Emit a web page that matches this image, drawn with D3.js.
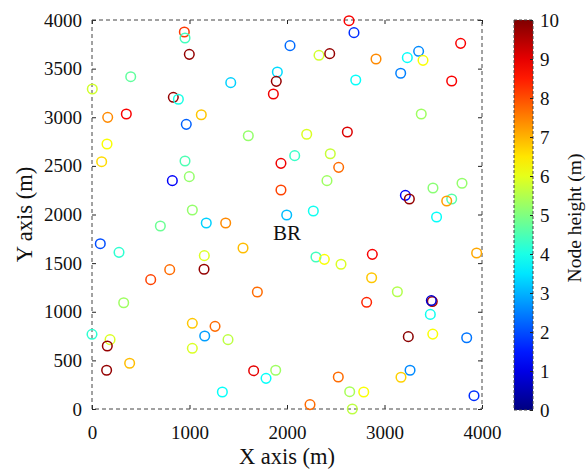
<!DOCTYPE html>
<html><head><meta charset="utf-8">
<script src="https://cdn.jsdelivr.net/npm/d3@7"></script>
<style>body{margin:0;background:#fff}svg{display:block}text{font-family:"Liberation Serif","Times New Roman",serif;fill:#111}</style>
</head><body><svg id="c" width="586" height="474"></svg>
<script>
const xVals=[947,954,998,397,3,1423,1901,1890,1860,834,886,161,352,1121,967,1603,154,99,954,998,824,1938,1938,1029,
2636,2687,2031,2328,2438,2913,3234,3350,3395,3781,3166,2705,3689,3377,2202,2619,2079,2444,2530,2410,3214,3255,3497,3795,3689,3638,2270,1997,
1172,1371,701,85,277,1549,1152,797,602,1149,1696,325,1029,1262,1156,1395,1029,0,185,157,150,386,1658,1785,1884,1337,
3534,3945,2297,2383,2554,2875,2868,3132,2817,3490,3480,3470,3244,3495,3843,3262,3169,2526,2643,2787,2236,2670,3918];
const yVals=[3877,3815,3647,3417,3290,3356,3465,3369,3239,3205,3185,2999,3033,3026,2927,2810,2725,2543,2550,2389,2348,2526,2252,2046,
3993,3870,3736,3637,3654,3599,3613,3678,3585,3760,3452,3383,3373,3033,2825,2848,2605,2625,2485,2348,2197,2159,2272,2321,2159,2139,2036,1995,
1913,1913,1882,1700,1611,1656,1577,1433,1330,1437,1203,1093,881,850,751,713,624,768,713,648,398,470,394,315,398,175,
1974,1604,1563,1539,1488,1590,1350,1206,1097,1105,1115,973,744,770,733,398,326,329,178,175,45,0,137];
const hVals=[8.2,4.4,9.8,4.7,5.8,3.3,3.4,9.8,8.9,9.8,4.0,7.4,8.8,6.8,2.2,5.2,6.2,6.6,4.5,5.2,1.2,8.9,8.1,5.2,
8.8,1.7,2.3,5.8,9.8,7.4,3.8,2.6,6.2,8.8,2.5,3.8,8.8,5.3,5.9,9.1,4.3,5.7,7.7,5.3,1.2,9.8,5.1,5.2,4.6,7.2,3.9,3.1,
3.3,7.4,4.8,2.0,4.2,6.9,5.9,7.7,8.1,9.8,7.7,5.3,6.8,7.7,2.8,5.6,5.9,4.2,5.9,9.8,9.8,6.9,9.0,3.8,5.3,3.8,
3.8,7.1,4.4,6.2,5.9,8.8,6.8,5.5,8.4,9.6,0.8,3.9,9.9,6.2,2.4,2.6,6.7,7.7,5.4,6.2,7.7,5.6,1.7];
const xTicks=[0,1000,2000,3000,4000];
const yTicks=[0,500,1000,1500,2000,2500,3000,3500,4000];
const cTicks=[0,1,2,3,4,5,6,7,8,9,10];
const labelText="BR", labelX=2000, labelY=1810;

const svg=d3.select("#c");
const L=92,R=482,T=20,B=409;
const x=d3.scaleLinear().domain([0,4000]).range([L,R]);
const y=d3.scaleLinear().domain([0,4000]).range([B,T]);
const jet=d3.scaleLinear().domain([0,1.25,3.75,6.25,8.75,10])
  .range(["#000080","#0000ff","#00ffff","#ffff00","#ff0000","#800000"]).clamp(true);

const frameCol="#444", dash="4,3";
const fs="19px";
function styleAxis(g){
  g.attr("font-family",null).attr("font-size",null);
  g.select(".domain").remove();
  g.selectAll("line").attr("stroke","#222");
  g.selectAll("text").attr("font-family","Liberation Serif, serif").attr("font-size",fs).attr("fill","#111");
}
const gx=svg.append("g").attr("transform",`translate(0,${B})`).call(d3.axisBottom(x).tickValues(xTicks).tickSize(-4).tickPadding(17).tickFormat(d3.format("d")));
const gy=svg.append("g").attr("transform",`translate(${L},0)`).call(d3.axisLeft(y).tickValues(yTicks).tickSize(-4).tickPadding(10).tickFormat(d3.format("d")));
const gx2=svg.append("g").attr("transform",`translate(0,${T})`).call(d3.axisTop(x).tickValues(xTicks).tickSize(-4).tickFormat(""));
const gy2=svg.append("g").attr("transform",`translate(${R},0)`).call(d3.axisRight(y).tickValues(yTicks).tickSize(-4).tickFormat(""));
[gx,gy,gx2,gy2].forEach(styleAxis);
svg.append("rect").attr("x",L).attr("y",T).attr("width",R-L).attr("height",B-T)
  .attr("fill","none").attr("stroke",frameCol).attr("stroke-dasharray",dash).attr("stroke-width",1);

svg.append("g").selectAll("circle").data(xVals.map((v,i)=>({x:v,y:yVals[i],h:hVals[i]})))
  .join("circle").attr("cx",d=>x(d.x)).attr("cy",d=>y(d.y)).attr("r",4.8)
  .attr("fill","none").attr("stroke",d=>jet(d.h)).attr("stroke-width",1.5);

svg.append("text").attr("x",x(labelX)).attr("y",y(labelY)).attr("text-anchor","middle").attr("dy","0.35em")
  .attr("font-size","21px").text(labelText);

svg.append("text").attr("x",(L+R)/2).attr("y",464).attr("text-anchor","middle").attr("font-size","22.5px").text("X axis (m)");
svg.append("text").attr("transform",`translate(32,${(T+B)/2}) rotate(-90)`).attr("text-anchor","middle").attr("font-size","22.5px").text("Y axis (m)");

const cbL=514,cbW=19;
const cy=d3.scaleLinear().domain([0,10]).range([410,20]);
const defs=svg.append("defs");
const grad=defs.append("linearGradient").attr("id","jetg").attr("x1",0).attr("y1",1).attr("x2",0).attr("y2",0);
d3.range(0,10.01,0.5).forEach(v=>grad.append("stop").attr("offset",v/10).attr("stop-color",jet(v)));
svg.append("rect").attr("x",cbL).attr("y",20).attr("width",cbW).attr("height",390).attr("fill","url(#jetg)")
  .attr("stroke",frameCol).attr("stroke-dasharray","3,2").attr("stroke-width",1);
const gc=svg.append("g").attr("transform",`translate(${cbL+cbW},0)`).call(d3.axisRight(cy).tickValues(cTicks).tickSize(-3).tickPadding(7).tickFormat(d3.format("d")));
styleAxis(gc);
svg.append("text").attr("transform",`translate(581,218) rotate(-90)`).attr("text-anchor","middle").attr("font-size","19.5px").text("Node height (m)");
</script></body></html>
